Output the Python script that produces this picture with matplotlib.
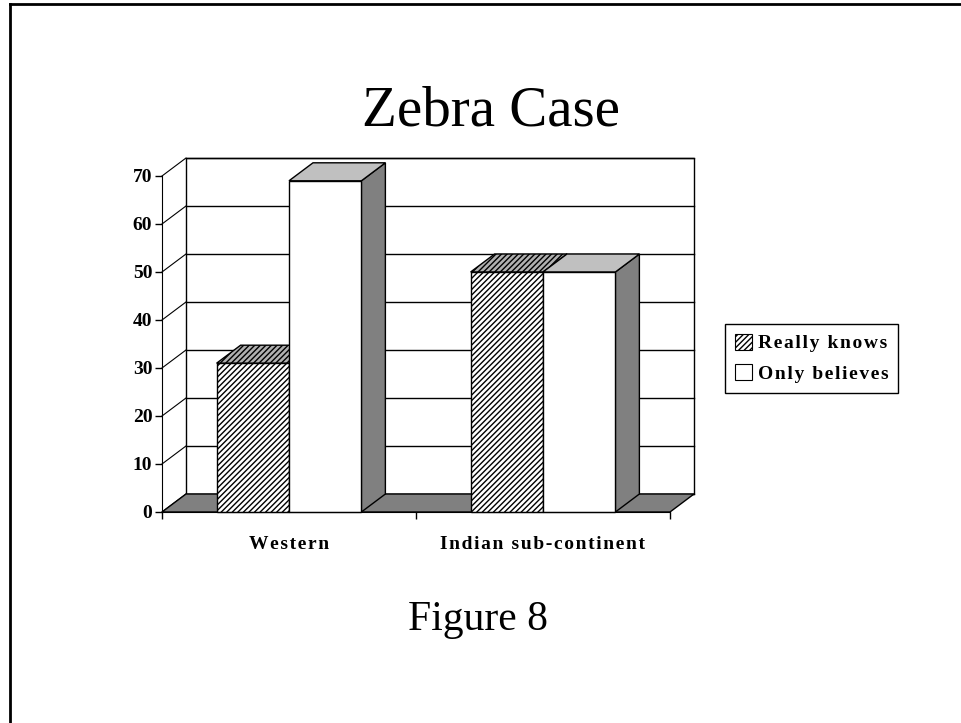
import matplotlib
matplotlib.use('Agg')
import matplotlib.pyplot as plt
from matplotlib.patches import Polygon, Patch
from matplotlib.lines import Line2D

categories = ['Western', 'Indian sub-continent']
series_names = ['Really knows', 'Only believes']
really_knows = [31, 50]
only_believes = [69, 50]
yticks = [0, 10, 20, 30, 40, 50, 60, 70]

plt.rcParams['font.family'] = ['Liberation Serif', 'DejaVu Serif']
plt.rcParams['hatch.linewidth'] = 1.0


def spaced(s):
    return '\u200a'.join(s)


W, H = 961, 723
fig = plt.figure(figsize=(W / 100, H / 100), dpi=100)
x0, x1, y0, y1 = 162, 670, 512, 176
ax = fig.add_axes([x0 / W, 1 - y0 / H, (x1 - x0) / W, (y0 - y1) / H])
ncat = len(categories)
ymax = yticks[-1]
ax.set_xlim(0, ncat)
ax.set_ylim(0, ymax)
ax.patch.set_visible(False)

# depth offset (data units)
dx = 24 / (x1 - x0) * ncat
dy = 18 / (y0 - y1) * ymax

# back wall
ax.add_patch(Polygon([(dx, dy), (ncat + dx, dy), (ncat + dx, ymax + dy), (dx, ymax + dy)],
                     closed=True, facecolor='white', edgecolor='black', lw=1, zorder=0.5, clip_on=False))
for v in yticks:
    ax.plot([dx, ncat + dx], [v + dy, v + dy], color='black', lw=1, zorder=0.6, clip_on=False)
    ax.plot([0, dx], [v, v + dy], color='black', lw=0.8, zorder=0.6, clip_on=False)

# floor
ax.add_patch(Polygon([(0, 0), (ncat, 0), (ncat + dx, dy), (dx, dy)], closed=True,
                     facecolor='#808080', edgecolor='black', lw=1, zorder=1, clip_on=False))

group_start = 0.215
bw = 0.285
hatch = '//////'


def bar3d(xl, h, hatched, z):
    side = Polygon([(xl + bw, 0), (xl + bw + dx, dy), (xl + bw + dx, h + dy), (xl + bw, h)],
                   closed=True, facecolor='#808080', edgecolor='black', lw=1, zorder=z, clip_on=False)
    ax.add_patch(side)
    top = Polygon([(xl, h), (xl + bw, h), (xl + bw + dx, h + dy), (xl + dx, h + dy)], closed=True,
                  facecolor='#b0b0b0', edgecolor='black', lw=1, zorder=z + 0.1, clip_on=False,
                  hatch=hatch if hatched else None)
    if not hatched:
        top.set_facecolor('#c0c0c0')
    ax.add_patch(top)
    ax.bar([xl], [h], width=bw, align='edge', facecolor='white', edgecolor='black', lw=1,
           hatch=hatch if hatched else None, zorder=z + 0.2, clip_on=False)


for i in range(ncat):
    xl = i + group_start
    bar3d(xl, really_knows[i], True, 2 + i)
    bar3d(xl + bw, only_believes[i], False, 2.5 + i)

for s in ['top', 'right']:
    ax.spines[s].set_visible(False)
ax.spines['left'].set_zorder(10)
ax.spines['bottom'].set_zorder(10)
ax.set_yticks(yticks)
ax.set_yticklabels([str(v) for v in yticks], fontsize=14, fontweight='bold')
ax.tick_params(axis='y', direction='out', length=5, width=1, pad=2)
ax.set_xticks(range(ncat + 1))
ax.set_xticklabels([''] * (ncat + 1))
ax.tick_params(axis='x', which='major', direction='out', length=5, width=1)
ax.set_xticks([i + 0.5 for i in range(ncat)], minor=True)
ax.set_xticklabels([spaced(c) for c in categories], minor=True, fontsize=14, fontweight='bold')
ax.tick_params(axis='x', which='minor', length=0, pad=17)

handles = [Patch(facecolor='white', edgecolor='black', hatch=hatch, lw=0.8),
           Patch(facecolor='white', edgecolor='black', lw=0.8)]
leg = fig.legend(handles, [spaced(s) for s in series_names], loc='upper left',
                 bbox_to_anchor=(725 / W, 1 - 324 / H),
                 frameon=True, fancybox=False, edgecolor='black', framealpha=1,
                 prop={'weight': 'bold', 'size': 14}, handlelength=0.9, handleheight=0.9,
                 handletextpad=0.3, borderpad=0.5, labelspacing=0.6, borderaxespad=0)
leg.get_frame().set_linewidth(1)

fig.text(491 / W, 1 - 125 / H, 'Zebra Case', ha='center', va='baseline', fontsize=41)
fig.text(478 / W, 1 - 630 / H, 'Figure 8', ha='center', va='baseline', fontsize=30)

fig.add_artist(Line2D([10 / W, 10 / W], [0, 1 - 4 / H], transform=fig.transFigure, color='black', lw=2))
fig.add_artist(Line2D([10 / W, 1], [1 - 4 / H, 1 - 4 / H], transform=fig.transFigure, color='black', lw=2))

fig.savefig('out.png', dpi=100, facecolor='white')
